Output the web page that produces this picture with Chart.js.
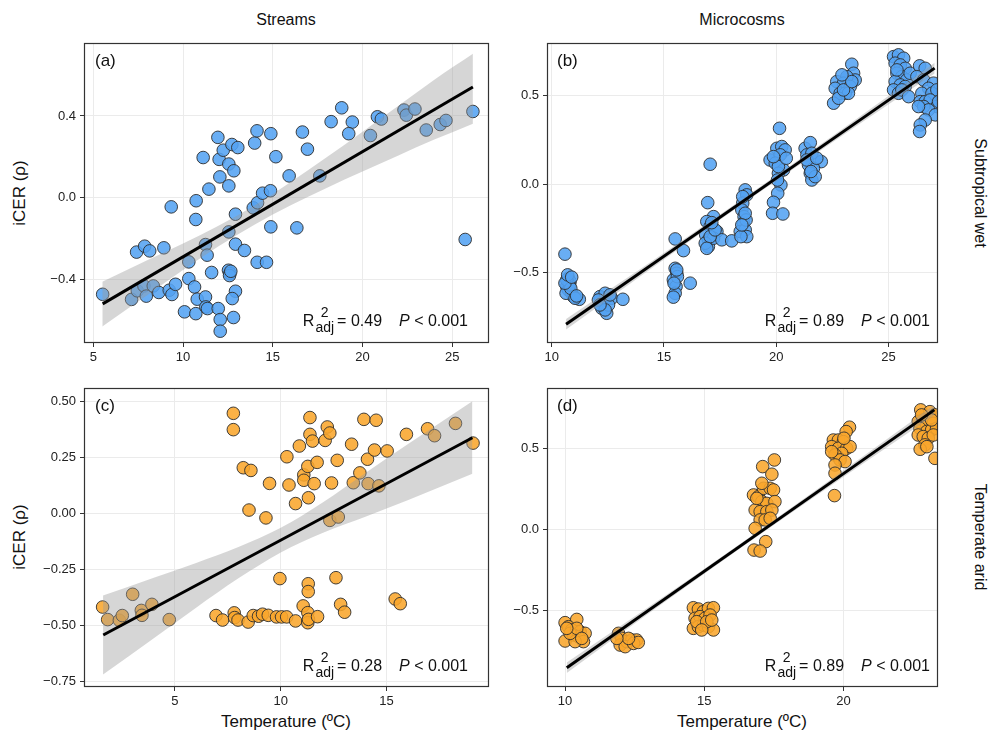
<!DOCTYPE html>
<html>
<head>
<meta charset="utf-8">
<script src="https://cdn.jsdelivr.net/npm/chart.js@4/dist/chart.umd.min.js"></script>
<style>
  body { margin: 0; background: #fff; font-family: 'Liberation Sans', Arial, sans-serif; color: #111; }
  #wrap { position: relative; width: 992px; height: 739px; overflow: hidden; }
  canvas { position: absolute; }
  .lbl { position: absolute; white-space: nowrap; transform: translate(-50%, -50%); }
  .strip { font-size: 16px; }
  .axt { font-size: 17px; }
  .tag { position: absolute; font-size: 17px; line-height: 20px; }
  .stat { position: absolute; font-size: 16px; line-height: 20px; white-space: nowrap; }
  .ss { display: inline-block; vertical-align: -6px; font-size: 14px; line-height: 15px; text-align: center; margin: 0 3px 0 1px; }
  .ss span { display: block; }
</style>
</head>
<body>
<div id="wrap">
  <div class="lbl strip" style="left:286px;top:20px">Streams</div>
  <div class="lbl strip" style="left:742px;top:20px">Microcosms</div>
  <div class="lbl strip" style="left:980px;top:193px;transform:translate(-50%,-50%) rotate(90deg)">Subtropical wet</div>
  <div class="lbl strip" style="left:980px;top:537px;transform:translate(-50%,-50%) rotate(90deg)">Temperate arid</div>
  <div class="lbl axt" style="left:20px;top:193px;transform:translate(-50%,-50%) rotate(-90deg)">iCER (ρ)</div>
  <div class="lbl axt" style="left:20px;top:537px;transform:translate(-50%,-50%) rotate(-90deg)">iCER (ρ)</div>
  <div class="lbl axt" style="left:286px;top:722px">Temperature (ºC)</div>
  <div class="lbl axt" style="left:742px;top:722px">Temperature (ºC)</div>

  <canvas id="cA" width="496" height="345" style="left:0;top:30px"></canvas>
  <canvas id="cB" width="450" height="345" style="left:496px;top:30px"></canvas>
  <canvas id="cC" width="496" height="340" style="left:0;top:375px"></canvas>
  <canvas id="cD" width="450" height="340" style="left:496px;top:375px"></canvas>

  <div class="tag" style="left:95px;top:51px">(a)</div>
  <div class="tag" style="left:557px;top:51px">(b)</div>
  <div class="tag" style="left:95px;top:396px">(c)</div>
  <div class="tag" style="left:557px;top:396px">(d)</div>

  <div class="stat" style="right:524px;top:305px">R<span class="ss"><span>2</span><span>adj</span></span>= 0.49<span style="display:inline-block;width:17px"></span><i>P</i> &lt; 0.001</div>
  <div class="stat" style="right:62px;top:305px">R<span class="ss"><span>2</span><span>adj</span></span>= 0.89<span style="display:inline-block;width:17px"></span><i>P</i> &lt; 0.001</div>
  <div class="stat" style="right:524px;top:650px">R<span class="ss"><span>2</span><span>adj</span></span>= 0.28<span style="display:inline-block;width:17px"></span><i>P</i> &lt; 0.001</div>
  <div class="stat" style="right:62px;top:650px">R<span class="ss"><span>2</span><span>adj</span></span>= 0.89<span style="display:inline-block;width:17px"></span><i>P</i> &lt; 0.001</div>
</div>

<script>
// (a) streams, subtropical wet
const streamWetX = [5.52, 7.13, 7.45, 7.41, 7.86, 8.14, 7.82, 7.95, 8.34, 8.65, 8.93, 9.23, 9.38, 9.58, 9.34,
  10.08, 10.32, 10.32, 10.64, 10.71, 10.79, 10.73, 10.71, 11.12, 11.25, 11.27, 11.36, 11.25, 11.34, 11.44, 11.59,
  11.94, 12.01, 12.05, 11.96, 12.07, 12.07, 12.24, 12.55, 12.55, 12.72, 12.83, 13.05, 12.55, 12.92, 12.92, 12.53,
  12.61, 12.59, 12.66, 12.92, 12.74, 12.81, 13.42, 13.91, 14.15, 14.43, 14.87, 14.13, 14.65, 14.89, 13.99, 14.12,
  14.89, 15.17, 15.91, 16.34, 16.65, 16.93, 17.62, 18.25, 18.84, 19.43, 19.23, 20.44, 20.83, 21.05, 22.31, 22.44,
  22.92, 23.55, 24.33, 24.65, 26.15, 25.72];
const streamWetY = [-0.475, -0.50, -0.458, -0.268, -0.239, -0.262, -0.434, -0.484, -0.434, -0.466, -0.247, -0.455, -0.476, -0.426, -0.046,
  -0.561, -0.316, -0.398, -0.439, -0.570, -0.499, -0.016, -0.108, 0.196, -0.488, -0.537, -0.545, -0.231, -0.283, 0.041, -0.368,
  0.295, 0.187, 0.101, -0.545, -0.599, -0.656, 0.232, 0.164, 0.057, 0.260, 0.131, 0.245, -0.169, -0.082, -0.229, -0.357,
  -0.373, -0.383, -0.362, -0.460, -0.496, -0.589, -0.260, -0.051, -0.026, 0.021, 0.033, -0.318, -0.318, -0.144, 0.267, 0.327,
  0.313, 0.200, 0.106, -0.149, 0.321, 0.237, 0.106, 0.372, 0.440, 0.370, 0.313, 0.304, 0.396, 0.385, 0.429, 0.404,
  0.434, 0.331, 0.358, 0.378, 0.422, -0.206];
const fitAX = [5.52, 26.15];
const fitAY = [-0.522, 0.542];
const bandAX = [5.5, 8, 10, 12, 14, 16, 18, 20, 22, 24, 26.15];
const bandALo = [-0.633, -0.480, -0.356, -0.238, -0.132, -0.038, 0.047, 0.127, 0.206, 0.284, 0.362];
const bandAHi = [-0.413, -0.308, -0.226, -0.138, -0.038, 0.076, 0.197, 0.323, 0.450, 0.578, 0.705];

// (b) microcosms, subtropical wet
const microWetX = [10.59, 10.74, 10.82, 10.67, 10.74, 10.89, 10.97, 11.23, 10.64, 10.79, 10.67, 10.85, 11.04, 10.59, 10.71, 10.89, 11.11,
  12.15, 12.38, 12.30, 12.23, 12.45, 12.67, 13.17, 12.08, 12.53, 12.38, 12.15, 12.60,
  15.50, 15.87, 15.50, 15.57, 15.42, 15.54, 15.50, 15.42, 16.17, 15.60, 15.45, 15.57,
  17.06, 16.95, 17.21, 16.91, 17.06, 16.86, 16.98, 16.98, 17.36, 17.21, 17.58, 18.02, 16.84, 17.06, 17.28, 17.13, 16.91,
  18.62, 18.69, 18.51, 18.47, 18.57, 18.54, 18.40, 18.62, 18.69, 18.43, 18.66, 18.51, 18.62, 18.47,
  20.15, 19.73, 20.03, 20.25, 20.40, 20.18, 19.96, 20.33, 20.10, 20.21, 20.07, 19.88, 19.84, 20.30, 20.10, 20.45, 19.88, 20.06,
  21.29, 21.52, 21.37, 21.59, 22.01, 21.44, 21.66, 21.52, 21.59, 21.74, 21.37, 21.81, 21.55,
  23.37, 23.45, 23.52, 23.15, 22.70, 23.00, 23.30, 22.63, 22.85, 23.08, 23.22, 22.56, 22.78, 23.00, 23.37, 22.93,
  25.23, 25.45, 25.68, 25.30, 25.53, 25.75, 25.38, 25.60, 25.82, 25.30, 25.53, 25.75, 25.23, 25.45, 25.60, 25.90, 25.38, 25.97,
  26.39, 26.64, 26.27, 26.57, 27.01, 26.79, 26.49, 26.94, 27.16, 26.42, 26.64, 26.86, 27.16, 26.57, 26.79, 27.09, 26.34, 26.64, 26.42, 26.39, 27.24];
const microWetY = [-0.395, -0.531, -0.550, -0.578, -0.597, -0.616, -0.635, -0.650, -0.616, -0.569, -0.540, -0.588, -0.644, -0.559, -0.512, -0.525, -0.631,
  -0.635, -0.616, -0.672, -0.701, -0.729, -0.644, -0.650, -0.654, -0.682, -0.710, -0.682, -0.625,
  -0.309, -0.375, -0.475, -0.503, -0.540, -0.578, -0.616, -0.638, -0.559, -0.522, -0.559, -0.484,
  0.113, -0.104, -0.183, -0.211, -0.239, -0.286, -0.315, -0.352, -0.267, -0.305, -0.314, -0.320, -0.333, -0.296, -0.258, -0.217, -0.362,
  -0.032, -0.060, -0.107, -0.145, -0.183, -0.220, -0.267, -0.258, -0.296, -0.296, -0.202, -0.070, -0.164, -0.230,
  0.316, 0.137, 0.203, 0.213, 0.194, 0.166, 0.119, 0.081, 0.062, -0.004, -0.051, -0.102, -0.164, -0.168, 0.100, 0.147, 0.156, 0.024,
  0.203, 0.235, 0.166, 0.175, 0.128, 0.109, 0.090, 0.062, 0.024, 0.043, 0.137, 0.147, 0.072,
  0.678, 0.627, 0.589, 0.608, 0.580, 0.571, 0.552, 0.542, 0.514, 0.514, 0.514, 0.458, 0.486, 0.533, 0.580, 0.618,
  0.721, 0.731, 0.712, 0.684, 0.674, 0.655, 0.627, 0.608, 0.589, 0.580, 0.561, 0.552, 0.533, 0.514, 0.533, 0.495, 0.646, 0.627,
  0.669, 0.655, 0.608, 0.589, 0.571, 0.542, 0.514, 0.514, 0.533, 0.467, 0.467, 0.476, 0.439, 0.439, 0.420, 0.392, 0.439, 0.363, 0.335, 0.298, 0.467];
const fitBX = [10.64, 27.06];
const fitBY = [-0.791, 0.656];
const bandBX = [10.64, 14, 18.5, 23, 27.06];
const bandBLo = [-0.821, -0.515, -0.112, 0.280, 0.626];
const bandBHi = [-0.761, -0.475, -0.084, 0.316, 0.686];

// (c) streams, temperate arid
const streamAridX = [1.58, 1.82, 2.37, 2.51, 3.00, 3.41, 3.44, 3.91, 4.73, 6.94, 7.25, 7.76, 7.76, 7.80, 7.82, 7.98,
  8.23, 8.59, 8.50, 8.46, 8.70, 8.95, 9.14, 9.30, 9.41, 9.47, 9.80, 9.96, 10.04, 10.28, 10.29, 10.39, 10.70, 10.70,
  10.88, 11.09, 11.09, 11.06, 11.28, 11.31, 11.30, 11.30, 11.28, 11.28, 11.31, 11.38, 11.38, 11.50, 11.58, 11.72, 11.74,
  12.10, 12.20, 12.32, 12.40, 12.32, 12.72, 12.61, 12.67, 12.83, 13.02, 13.35, 13.43, 13.74, 13.93, 14.10, 14.13, 14.43,
  14.51, 14.64, 15.03, 15.41, 15.65, 15.94, 16.94, 17.27, 18.26, 19.09];
const streamAridY = [-0.417, -0.473, -0.476, -0.455, -0.360, -0.432, -0.454, -0.405, -0.473, -0.455, -0.475, 0.448, 0.375, -0.443, -0.464, -0.475,
  0.205, 0.193, 0.016, -0.484, -0.455, -0.458, -0.449, -0.019, -0.454, 0.135, -0.461, -0.290, -0.461, -0.461, 0.254, 0.128, 0.045, -0.479,
  0.302, 0.173, 0.149, -0.412, 0.211, 0.071, -0.313, -0.348, -0.442, -0.487, -0.472, 0.429, 0.354, 0.324, 0.134, 0.229, -0.460,
  0.327, 0.387, 0.360, 0.137, -0.030, -0.015, -0.286, 0.238, -0.405, -0.440, 0.310, 0.138, 0.182, 0.421, 0.243, 0.134, 0.284,
  0.417, 0.124, 0.280, -0.381, -0.402, 0.354, 0.379, 0.348, 0.403, 0.315];
const fitCX = [1.61, 19.06];
const fitCY = [-0.542, 0.339];
const bandCX = [1.6, 4, 6, 8, 10, 12, 14, 16, 19.06];
const bandCLo = [-0.718, -0.556, -0.420, -0.289, -0.173, -0.085, -0.014, 0.060, 0.178];
const bandCHi = [-0.366, -0.286, -0.220, -0.149, -0.063, 0.051, 0.182, 0.310, 0.502];

// (d) microcosms, temperate arid
const microAridX = [10.00, 10.42, 10.12, 10.24, 10.54, 10.72, 10.00, 10.30, 10.48, 10.66, 10.36, 10.18, 10.42, 10.60, 10.06,
  11.92, 12.04, 11.98, 12.22, 12.40, 12.57, 12.16, 12.46, 12.63, 12.28, 11.86,
  14.61, 14.79, 14.97, 15.15, 15.33, 14.67, 14.85, 15.03, 15.21, 14.61, 14.79, 14.97, 15.15, 15.33, 14.73, 15.09, 15.27, 14.91,
  17.10, 17.52, 17.43, 16.77, 16.95, 17.13, 17.37, 17.49, 17.07, 17.25, 17.54, 16.83, 17.01, 17.25, 17.43, 17.01, 17.19, 17.37,
  16.83, 17.21, 16.79, 17.01, 17.07, 16.89,
  20.22, 20.10, 19.64, 19.82, 20.00, 19.58, 19.82, 20.12, 20.24, 19.94, 19.70, 19.88, 20.06, 19.70, 19.70, 19.68, 19.58, 20.02,
  22.78, 23.11, 23.29, 22.69, 22.87, 22.99, 23.23, 22.75, 22.99, 23.17, 23.35, 22.69, 22.87, 23.05, 23.23, 22.93, 22.76, 23.00, 23.29, 23.17, 22.81];
const microAridY = [-0.576, -0.556, -0.601, -0.621, -0.632, -0.642, -0.689, -0.652, -0.663, -0.693, -0.693, -0.642, -0.611, -0.673, -0.611,
  -0.642, -0.673, -0.714, -0.693, -0.683, -0.683, -0.724, -0.704, -0.698, -0.673, -0.673,
  -0.484, -0.492, -0.508, -0.488, -0.484, -0.549, -0.539, -0.549, -0.529, -0.611, -0.601, -0.591, -0.601, -0.621, -0.570, -0.570, -0.560, -0.621,
  0.387, 0.428, 0.340, 0.212, 0.202, 0.253, 0.253, 0.243, 0.171, 0.160, 0.171, 0.119, 0.109, 0.109, 0.119, 0.058, 0.058, 0.068,
  0.006, -0.076, -0.128, -0.134, 0.284, 0.191,
  0.630, 0.603, 0.551, 0.551, 0.541, 0.510, 0.500, 0.500, 0.510, 0.469, 0.459, 0.428, 0.418, 0.397, 0.346, 0.208, 0.479, 0.562,
  0.737, 0.726, 0.706, 0.665, 0.675, 0.644, 0.654, 0.623, 0.603, 0.613, 0.623, 0.582, 0.572, 0.562, 0.582, 0.521, 0.494, 0.510, 0.438, 0.675, 0.706];
const fitDX = [10.06, 23.27];
const fitDY = [-0.854, 0.737];
const bandDX = [10.06, 13, 16.5, 20, 23.27];
const bandDLo = [-0.886, -0.520, -0.092, 0.323, 0.705];
const bandDHi = [-0.822, -0.480, -0.064, 0.363, 0.769];

const blueFill = 'rgba(84, 163, 243, 0.88)';
const orangeFill = 'rgba(249, 166, 44, 0.88)';
const tickFont = { family: "'Liberation Sans', Arial, sans-serif", size: 13 };

const frame = {
  id: 'frame',
  afterDatasetsDraw(chart) {
    const a = chart.chartArea, g = chart.ctx;
    g.save();
    g.strokeStyle = '#333';
    g.lineWidth = 1.2;
    g.strokeRect(Math.round(a.left) + 0.5, Math.round(a.top) + 0.5, Math.round(a.width) - 1, Math.round(a.height) - 1);
    g.restore();
  }
};

function fmt(dec) {
  return v => (v < 0 ? '\u2212' : '') + Math.abs(v).toFixed(dec);
}

function xy(xs, ys) {
  return xs.map((x, i) => ({ x: x, y: ys[i] }));
}

function panel(id, xs, ys, fill, fx, fy, bx, blo, bhi, xr, yr, xt, yt, dec, yw, xh, padRight) {
  new Chart(document.getElementById(id), {
    type: 'scatter',
    data: {
      datasets: [
        { data: xy(xs, ys), backgroundColor: fill, borderColor: 'rgba(45,45,45,0.9)', borderWidth: 1,
          pointRadius: 6.3, clip: 0, order: 3 },
        { type: 'line', data: xy(bx, blo), borderWidth: 0, pointRadius: 0, fill: false,
          cubicInterpolationMode: 'monotone', clip: 0, order: 2 },
        { type: 'line', data: xy(bx, bhi), borderWidth: 0, pointRadius: 0, fill: '-1',
          backgroundColor: 'rgba(153,153,153,0.4)', cubicInterpolationMode: 'monotone', clip: 0, order: 2 },
        { type: 'line', data: xy(fx, fy), borderColor: '#000', borderWidth: 3, pointRadius: 0, fill: false,
          clip: 0, order: 1 }
      ]
    },
    options: {
      responsive: false,
      animation: false,
      events: [],
      layout: { padding: { top: 13, right: padRight, left: 0, bottom: 0 } },
      plugins: { legend: { display: false }, tooltip: { enabled: false } },
      scales: {
        x: {
          type: 'linear', min: xr[0], max: xr[1],
          afterBuildTicks: s => { s.ticks = xt.map(v => ({ value: v })); },
          afterFit: s => { s.height = xh; },
          grid: { color: '#ebebeb', tickColor: '#333', tickLength: 4, lineWidth: 1 },
          border: { display: false },
          ticks: { font: tickFont, color: '#222', padding: 3, maxRotation: 0, autoSkip: false, callback: v => String(v) }
        },
        y: {
          type: 'linear', min: yr[0], max: yr[1],
          afterBuildTicks: s => { s.ticks = yt.map(v => ({ value: v })); },
          afterFit: s => { s.width = yw; },
          grid: { color: '#ebebeb', tickColor: '#333', tickLength: 4, lineWidth: 1 },
          border: { display: false },
          ticks: { font: tickFont, color: '#222', padding: 4, autoSkip: false, callback: fmt(dec) }
        }
      }
    },
    plugins: [frame]
  });
}

panel('cA', streamWetX, streamWetY, blueFill, fitAX, fitAY, bandAX, bandALo, bandAHi,
  [4.48, 27.03], [-0.714, 0.758], [5, 10, 15, 20, 25], [-0.4, 0, 0.4], 1, 84, 32, 7);
panel('cB', microWetX, microWetY, blueFill, fitBX, fitBY, bandBX, bandBLo, bandBHi,
  [9.79, 27.21], [-0.897, 0.798], [10, 15, 20, 25], [-0.5, 0, 0.5], 1, 51, 32, 8);
panel('cC', streamAridX, streamAridY, orangeFill, fitCX, fitCY, bandCX, bandCLo, bandCHi,
  [0.70, 19.83], [-0.774, 0.561], [5, 10, 15], [-0.75, -0.5, -0.25, 0, 0.25, 0.5], 2, 84, 28, 7);
panel('cD', microAridX, microAridY, orangeFill, fitDX, fitDY, bandDX, bandDLo, bandDHi,
  [9.35, 23.40], [-0.973, 0.872], [10, 15, 20], [-0.5, 0, 0.5], 1, 51, 28, 8);
</script>
</body>
</html>
